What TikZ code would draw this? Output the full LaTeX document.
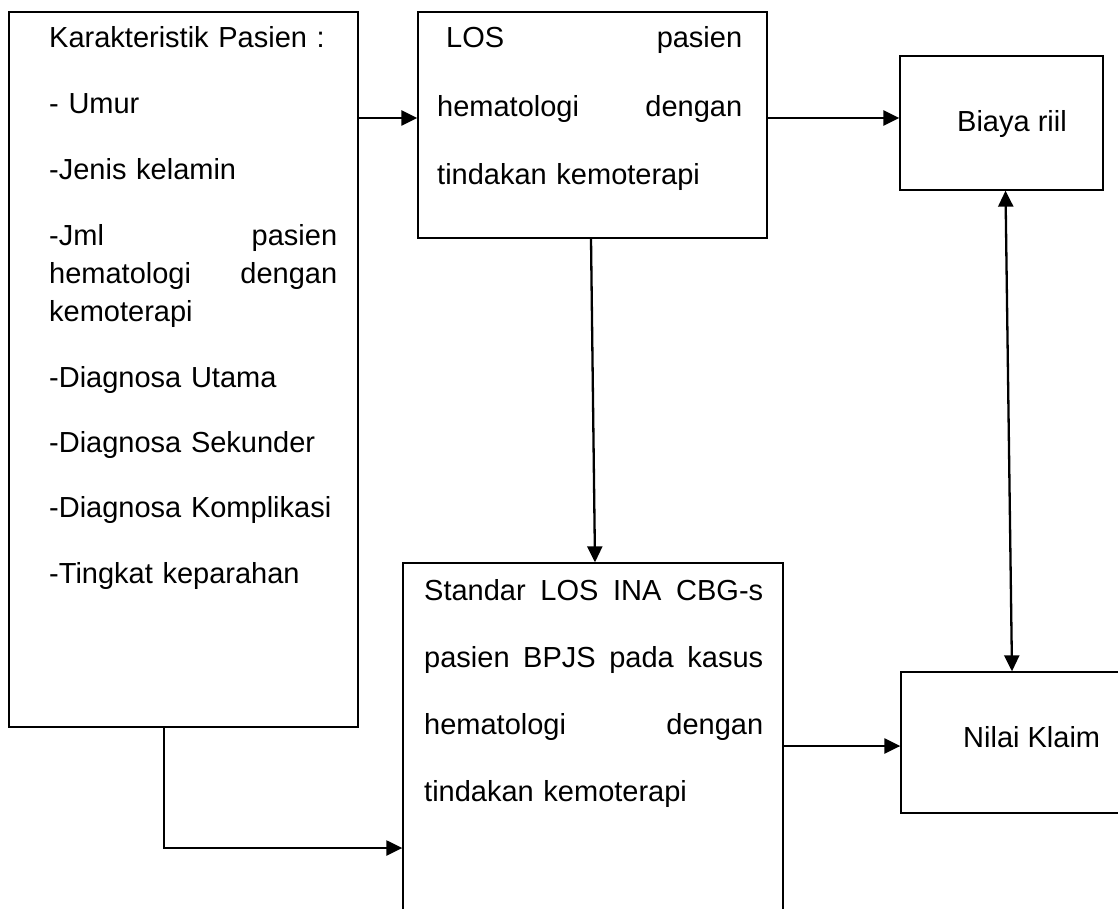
\documentclass[tikz,border=0pt]{standalone}
\usepackage{fontspec}
\setmainfont{Liberation Sans}
\usepackage{tikz}
\usetikzlibrary{arrows.meta, positioning}

\begin{document}
\begin{tikzpicture}[x=1pt, y=-1pt,
    box/.style={draw, line width=1.3pt, inner sep=0pt},
    txt/.style={anchor=base west, inner sep=0pt, align=left},
    arr/.style={-{Triangle[length=16pt, width=15pt]}, line width=2.3pt},
    dblarr/.style={{Triangle[length=16pt, width=15pt]}-{Triangle[length=16pt, width=15pt]}, line width=2.3pt}]
  \useasboundingbox (0, 0) rectangle (1118, 909);
  \node[box, minimum width=349pt, minimum height=715pt] (pasien) at (183.5, 369.5) {};
  \node[box, minimum width=349pt, minimum height=226pt] (los) at (592.5, 125) {};
  \node[box, minimum width=203pt, minimum height=134pt] (biaya) at (1001.5, 123) {};
  \node[box, minimum width=380pt, minimum height=377pt] (standar) at (593, 751.5) {};
  \node[box, minimum width=229pt, minimum height=141pt] (nilai) at (1015.5, 742.5) {};
  \node[txt, text width=288pt, font=\fontsize{29}{38}\selectfont] (pasientxt) at (49, 48)
    {Karakteristik Pasien :\\[28pt]
     - Umur\\[28pt]
     -Jenis kelamin\\[28pt]
     -Jml\hfill pasien\\
     hematologi\hfill dengan\\
     kemoterapi\\[28pt]
     -Diagnosa Utama\\[27pt]
     -Diagnosa Sekunder\\[27pt]
     -Diagnosa Komplikasi\\[28pt]
     -Tingkat keparahan};
  \node[txt, text width=305pt, font=\fontsize{29}{68.5}\selectfont] (lostxt) at (437, 48)
    {\hspace*{9pt}LOS\hfill pasien\\
     hematologi\hfill dengan\\
     tindakan kemoterapi};
  \node[txt, text width=339pt, font=\fontsize{29}{67.3}\selectfont] (standartxt) at (424, 600)
    {Standar\hfill LOS\hfill INA\hfill CBG-s\\
     pasien\hfill BPJS\hfill pada\hfill kasus\\
     hematologi\hfill dengan\\
     tindakan kemoterapi};
  \node[txt, font=\fontsize{29}{35}\selectfont] (biayatxt) at (957, 132) {Biaya riil};
  \node[txt, font=\fontsize{29}{35}\selectfont] (nilaitxt) at (963, 747) {Nilai Klaim};
  \draw[arr] ([yshift=7pt]los.west -| pasien.east) -- ([yshift=7pt]los.west);
  \draw[arr] ([yshift=7pt]los.east) -- ([yshift=7pt]los.east -| biaya.west);
  \draw[arr] ([xshift=-1.5pt]los.south) -- ([xshift=2pt]standar.north);
  \draw[dblarr] ([xshift=4pt]biaya.south) -- ([xshift=-3.5pt]nilai.north);
  \draw[arr] ([yshift=5.5pt]standar.east) -- ([yshift=5.5pt]standar.east -| nilai.west);
  \draw[arr] ([xshift=-19.5pt]pasien.south) |- ([yshift=-96.5pt]standar.west);
\end{tikzpicture}
\end{document}
